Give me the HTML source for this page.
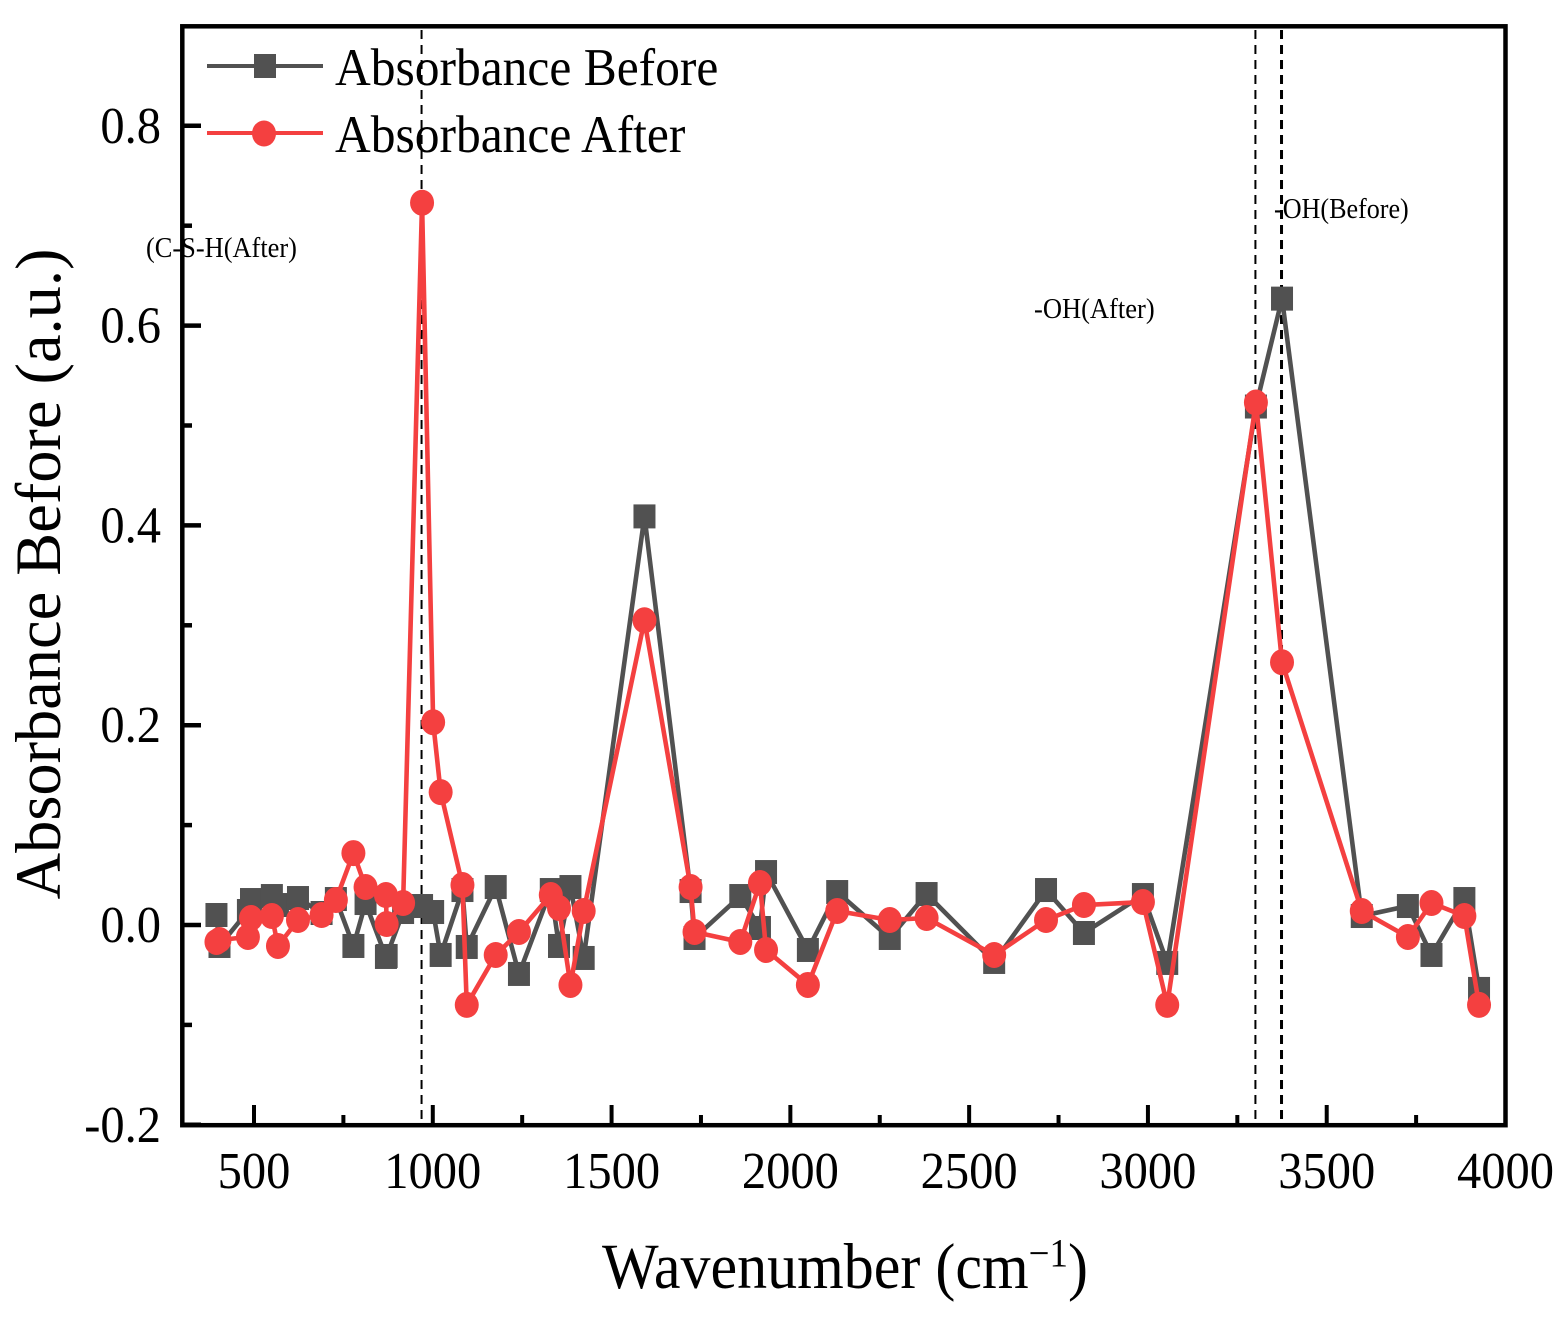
<!DOCTYPE html>
<html>
<head>
<meta charset="utf-8">
<title>Absorbance chart</title>
<style>
html,body{margin:0;padding:0;background:#fff;}
svg{display:block;font-family:"Liberation Serif",serif;fill:#000;}
</style>
</head>
<body>
<svg id="chart" xmlns="http://www.w3.org/2000/svg" width="1568" height="1320" viewBox="0 0 1568 1320">
  <rect x="0" y="0" width="1568" height="1320" fill="#ffffff"/>
  <g id="vlines"></g>
  <g id="legend">
    <g>
      <line x1="207" x2="323" y1="66" y2="66" stroke="#515151" stroke-width="4"/>
      <rect x="254" y="54" width="22" height="24" fill="#515151"/>
      <text transform="translate(335,85) scale(1,1.08)" font-size="49.5">Absorbance Before</text>
    </g>
    <g>
      <line x1="207" x2="323" y1="133" y2="133" stroke="#F44040" stroke-width="4"/>
      <ellipse cx="264" cy="133.500" rx="12" ry="13" fill="#F44040"/>
      <text transform="translate(335,152) scale(1,1.08)" font-size="49.5">Absorbance After</text>
    </g>
  </g>
  <g id="series-before"></g>
  <g id="series-after"></g>
  <g id="ticks"></g>
  <rect x="182.300" y="26.300" width="1323.200" height="1098.900" fill="none" stroke="#000" stroke-width="4.500"/>
  <text transform="translate(146,257) scale(1,1.08)" font-size="26.4">(C-S-H(After)</text>
  <text transform="translate(1274,218) scale(1,1.08)" font-size="26.1">-OH(Before)</text>
  <text transform="translate(1034,318) scale(1,1.08)" font-size="26.5">-OH(After)</text>
  <text transform="translate(845,1288) scale(1,1.08)" font-size="60" text-anchor="middle">Wavenumber (cm<tspan font-size="37" dy="-20">−1</tspan><tspan dy="20">)</tspan></text>
  <text transform="translate(60,574) rotate(-90)" font-size="64.4" text-anchor="middle">Absorbance Before (a.u.)</text>
</svg>
<script>
const wavenumbers = [395,403.5,483,491.6,550,567,623,689,729,778,812,869,871,917,970,1001,1022,1083,1095,1176,1241,1330,1353,1385,1422,1592,1721,1732,1860,1915,1932,2049,2131,2278,2381,2570,2715,2821,2986,3054,3302,3375,3598,3727,3793,3885,3926];
const absorbanceBefore = [0.010,-0.021,0.014,0.025,0.029,0.020,0.027,0.012,0.026,-0.021,0.022,-0.032,-0.031,0.013,0.019,0.013,-0.030,0.035,-0.022,0.038,-0.049,0.035,-0.021,0.038,-0.033,0.409,0.034,-0.013,0.029,-0.003,0.053,-0.025,0.033,-0.013,0.031,-0.037,0.035,-0.008,0.030,-0.038,0.519,0.627,0.009,0.019,-0.030,0.026,-0.064];
const absorbanceAfter = [-0.017,-0.015,-0.012,0.007,0.009,-0.021,0.005,0.010,0.025,0.072,0.038,0.030,0.001,0.022,0.723,0.203,0.133,0.040,-0.080,-0.030,-0.007,0.030,0.017,-0.060,0.014,0.305,0.038,-0.007,-0.017,0.042,-0.025,-0.060,0.014,0.005,0.007,-0.030,0.005,0.020,0.023,-0.080,0.523,0.263,0.014,-0.012,0.022,0.009,-0.080];
const xTickLabels = [500,1000,1500,2000,2500,3000,3500,4000];
const xMinorTicks = [750,1250,1750,2250,2750,3250,3750];
const yTickLabels = ["-0.2","0.0","0.2","0.4","0.6","0.8"];
const yMinorTicks = [-0.1,0.1,0.3,0.5,0.7];
const referenceWavenumbers = [970,3302,3375];

const NS = "http://www.w3.org/2000/svg";
function xScale(v){ return 254 + (v - 500) * (1505.5 - 254) / 3500; }
function yScale(v){ return 925 - v * 999; }
function make(tag, parent, attrs){
  const el = document.createElementNS(NS, tag);
  for (const k in attrs) el.setAttribute(k, attrs[k]);
  parent.appendChild(el);
  return el;
}

const ticksG = document.getElementById("ticks");
xTickLabels.forEach(function(v){
  const t = make("line", ticksG, {x1:xScale(v), x2:xScale(v), y1:1125, y2:1105, stroke:"#000", "stroke-width":4});
  
  
  const l = make("text", ticksG, {transform:"translate(" + xScale(v) + ",1188) scale(1,1.08)", "font-size":48.5, "text-anchor":"middle"});
  l.textContent = String(v);
  
  
});
xMinorTicks.forEach(function(v){
  const t = make("line", ticksG, {x1:xScale(v), x2:xScale(v), y1:1125, y2:1115, stroke:"#000", "stroke-width":4});
  
  
});
yTickLabels.forEach(function(s){
  const v = parseFloat(s);
  const t = make("line", ticksG, {x1:182, x2:201, y1:yScale(v), y2:yScale(v), stroke:"#000", "stroke-width":4.5});
  
  
  const l = make("text", ticksG, {transform:"translate(161," + (yScale(v) + 17) + ") scale(1,1.08)", "font-size":48.5, "text-anchor":"end"});
  l.textContent = s;
  
  
});
yMinorTicks.forEach(function(v){
  const t = make("line", ticksG, {x1:182, x2:192, y1:yScale(v), y2:yScale(v), stroke:"#000", "stroke-width":4.5});
  
  
});

const vG = document.getElementById("vlines");
referenceWavenumbers.forEach(function(v, i){
  const ln = make("line", vG, {x1:xScale(v) - 0.5, x2:xScale(v) - 0.5, y1:30, y2:1125, stroke:"#000", "stroke-width": i === 2 ? 3 : 2, "stroke-dasharray":"9 6"});
  
  
});

function drawBefore(){
  const g = document.getElementById("series-before");
  const pts = wavenumbers.map(function(w, i){ return xScale(w) + "," + yScale(absorbanceBefore[i]); }).join(" ");
  const pl = make("polyline", g, {points:pts, fill:"none", stroke:"#515151", "stroke-width":4.6, "stroke-linejoin":"round"});
  
  
  wavenumbers.forEach(function(w, i){
    const r = make("rect", g, {x:xScale(w) - 11, y:yScale(absorbanceBefore[i]) - 12, width:22, height:24, fill:"#515151"});
    
    
  });
}
function drawAfter(){
  const g = document.getElementById("series-after");
  const pts = wavenumbers.map(function(w, i){ return xScale(w) + "," + yScale(absorbanceAfter[i]); }).join(" ");
  const pl = make("polyline", g, {points:pts, fill:"none", stroke:"#F44040", "stroke-width":4.6, "stroke-linejoin":"round"});
  
  
  wavenumbers.forEach(function(w, i){
    const c = make("ellipse", g, {cx:xScale(w), cy:yScale(absorbanceAfter[i]), rx:12, ry:13, fill:"#F44040"});
    
    
  });
}
drawBefore();
drawAfter();
</script>
</body>
</html>
